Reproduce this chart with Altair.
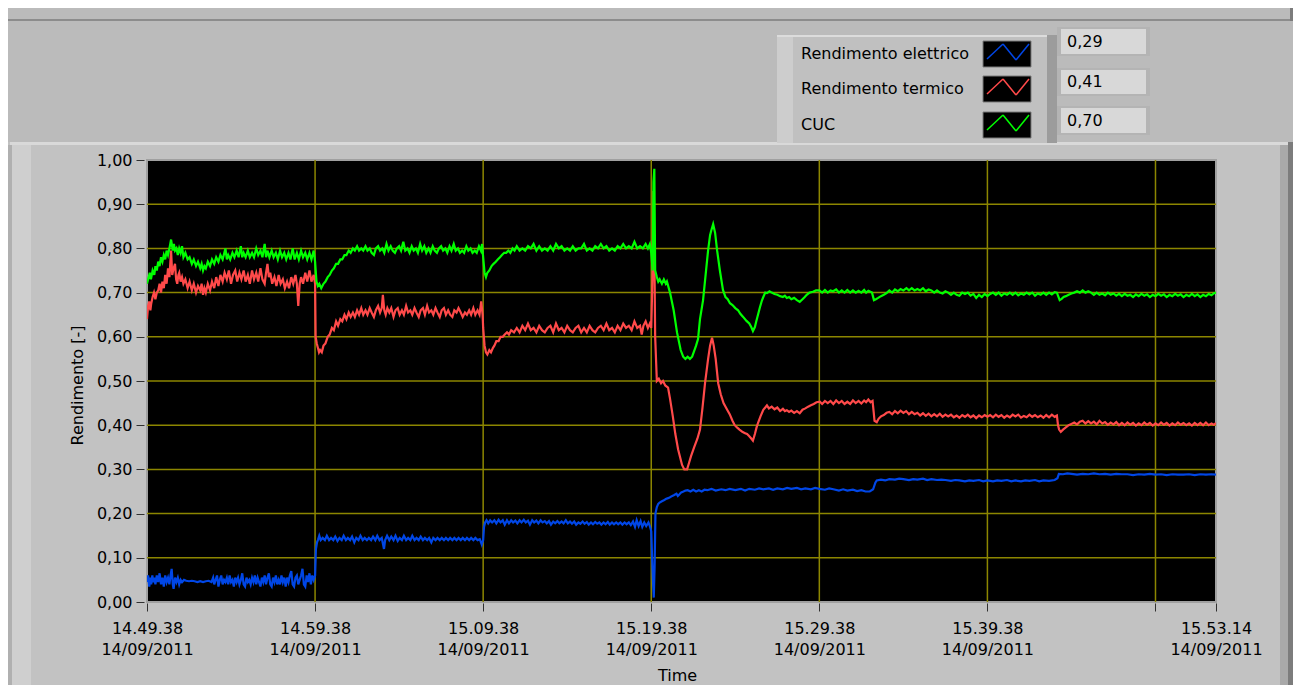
import altair as alt
import pandas as pd

FONT = "DejaVu Sans"
GRID = "#8c8600"
C_EL = "#0046e6"
C_TE = "#ff4a4a"
C_CUC = "#00ff00"

# x axis: seconds from 14.49.38 (14/09/2011)
X_TICKS = [0, 600, 1200, 1800, 2400, 3000, 3600, 3816]
X_TIME_LABELS = ["14.49.38", "14.59.38", "15.09.38", "15.19.38", "15.29.38", "15.39.38", "", "15.53.14"]
X_DATE_LABEL = "14/09/2011"
Y_TICKS = [0.0, 0.1, 0.2, 0.3, 0.4, 0.5, 0.6, 0.7, 0.8, 0.9, 1.0]
GRID_T = [600, 1200, 1800, 2400, 3000, 3600]
GRID_V = [0.1, 0.2, 0.3, 0.4, 0.5, 0.6, 0.7, 0.8, 0.9]

LEGEND_NAMES = ["Rendimento elettrico", "Rendimento termico", "CUC"]
LEGEND_VALUES = ["0,29", "0,41", "0,70"]

# (seconds, value)
CUC = [
    (0, 0.72), (6, 0.735), (10, 0.745), (14, 0.73), (20, 0.75), (26, 0.74), (30, 0.76), (35, 0.75), (40, 0.77),
    (45, 0.76), (50, 0.78), (55, 0.77), (60, 0.785), (65, 0.775), (70, 0.795), (75, 0.785), (80, 0.80),
    (86, 0.82), (92, 0.795), (96, 0.81), (100, 0.795), (105, 0.80), (110, 0.785), (115, 0.80), (120, 0.79),
    (125, 0.805), (130, 0.78), (137, 0.79), (145, 0.775), (152, 0.78), (160, 0.765), (167, 0.775), (175, 0.76),
    (182, 0.77), (190, 0.755), (195, 0.765), (200, 0.75), (205, 0.76), (210, 0.755), (217, 0.77), (225, 0.76),
    (232, 0.775), (240, 0.765), (247, 0.78), (255, 0.77), (262, 0.785), (270, 0.775), (280, 0.80), (285, 0.775),
    (290, 0.785), (297, 0.775), (305, 0.79), (312, 0.78), (320, 0.795), (327, 0.78), (335, 0.805), (340, 0.78),
    (345, 0.79), (352, 0.78), (360, 0.795), (367, 0.78), (375, 0.79), (382, 0.78), (390, 0.80), (397, 0.785),
    (405, 0.795), (412, 0.78), (420, 0.81), (425, 0.78), (430, 0.795), (437, 0.78), (445, 0.795), (452, 0.78),
    (460, 0.79), (467, 0.775), (475, 0.795), (482, 0.78), (490, 0.79), (497, 0.775), (505, 0.79), (512, 0.775),
    (520, 0.80), (527, 0.775), (535, 0.79), (542, 0.775), (550, 0.795), (557, 0.78), (565, 0.79), (572, 0.775),
    (580, 0.79), (587, 0.775), (595, 0.795),
    (600, 0.77), (605, 0.725), (610, 0.715), (615, 0.72), (622, 0.71), (630, 0.72), (637, 0.725), (645, 0.735),
    (652, 0.74), (660, 0.75), (667, 0.755), (675, 0.765), (682, 0.765), (690, 0.775), (697, 0.775), (705, 0.785),
    (712, 0.785), (720, 0.795), (727, 0.79), (735, 0.80), (742, 0.795), (750, 0.805), (757, 0.795), (765, 0.80),
    (772, 0.795), (780, 0.805), (787, 0.795), (795, 0.80), (802, 0.79), (810, 0.785), (817, 0.80), (825, 0.805),
    (832, 0.795), (840, 0.80), (847, 0.79), (855, 0.81), (862, 0.795), (870, 0.805), (877, 0.795), (885, 0.79),
    (892, 0.80), (900, 0.805), (907, 0.795), (915, 0.815), (922, 0.795), (930, 0.80), (937, 0.79), (945, 0.805),
    (952, 0.795), (960, 0.80), (967, 0.79), (975, 0.81), (982, 0.795), (990, 0.805), (997, 0.79), (1005, 0.80),
    (1012, 0.79), (1020, 0.805), (1027, 0.795), (1035, 0.79), (1042, 0.80), (1050, 0.805), (1057, 0.795),
    (1065, 0.80), (1072, 0.79), (1080, 0.805), (1087, 0.795), (1095, 0.81), (1102, 0.795), (1110, 0.80),
    (1117, 0.79), (1125, 0.795), (1132, 0.79), (1140, 0.805), (1147, 0.795), (1155, 0.80), (1162, 0.79),
    (1170, 0.795), (1177, 0.79), (1185, 0.805), (1192, 0.795), (1196, 0.81),
    (1200, 0.78), (1205, 0.745), (1210, 0.735), (1215, 0.745), (1222, 0.75), (1230, 0.76), (1237, 0.765),
    (1245, 0.77), (1252, 0.775), (1260, 0.78), (1267, 0.785), (1275, 0.79), (1282, 0.79), (1290, 0.795),
    (1297, 0.79), (1305, 0.80), (1312, 0.795), (1320, 0.805), (1330, 0.795), (1340, 0.80), (1350, 0.795),
    (1360, 0.805), (1370, 0.80), (1380, 0.81), (1390, 0.795), (1400, 0.805), (1410, 0.795), (1420, 0.80),
    (1430, 0.795), (1440, 0.805), (1450, 0.795), (1460, 0.81), (1470, 0.80), (1480, 0.805), (1490, 0.795),
    (1500, 0.80), (1510, 0.795), (1520, 0.805), (1530, 0.795), (1540, 0.80), (1550, 0.80), (1560, 0.81),
    (1570, 0.795), (1580, 0.80), (1590, 0.795), (1600, 0.805), (1610, 0.80), (1620, 0.81), (1630, 0.80),
    (1640, 0.805), (1650, 0.795), (1660, 0.80), (1670, 0.795), (1680, 0.805), (1690, 0.80), (1700, 0.81),
    (1710, 0.80), (1720, 0.805), (1730, 0.80), (1740, 0.815), (1750, 0.80), (1760, 0.805), (1770, 0.80),
    (1780, 0.81), (1788, 0.80), (1795, 0.81),
    (1800, 0.79), (1805, 0.75), (1808, 0.95), (1811, 0.98), (1814, 0.75), (1820, 0.735), (1825, 0.725),
    (1830, 0.73), (1838, 0.72), (1845, 0.73), (1852, 0.72), (1856, 0.725), (1867, 0.70), (1880, 0.66),
    (1892, 0.61), (1905, 0.57), (1914, 0.555), (1922, 0.55), (1930, 0.555), (1938, 0.55), (1946, 0.555),
    (1960, 0.58), (1967, 0.595), (1974, 0.64), (1985, 0.683), (2003, 0.796), (2010, 0.83), (2014, 0.84),
    (2021, 0.855), (2028, 0.835), (2035, 0.796), (2045, 0.75), (2056, 0.706), (2065, 0.69), (2073, 0.685),
    (2081, 0.676), (2090, 0.672), (2100, 0.665), (2110, 0.66), (2118, 0.652), (2128, 0.645), (2140, 0.636),
    (2150, 0.63), (2157, 0.622), (2163, 0.613), (2170, 0.622), (2175, 0.635), (2182, 0.652), (2188, 0.667),
    (2195, 0.682), (2200, 0.69), (2207, 0.70), (2213, 0.699), (2222, 0.703), (2230, 0.70), (2240, 0.697),
    (2250, 0.695), (2260, 0.692), (2270, 0.69), (2277, 0.693), (2284, 0.688), (2292, 0.69), (2300, 0.685),
    (2310, 0.688), (2320, 0.683), (2330, 0.679), (2340, 0.685), (2348, 0.69), (2355, 0.695), (2365, 0.70),
    (2377, 0.702), (2388, 0.705), (2400, 0.705), (2410, 0.70), (2420, 0.706), (2430, 0.70), (2440, 0.705),
    (2449, 0.703), (2460, 0.707), (2470, 0.70), (2480, 0.705), (2490, 0.70), (2500, 0.706), (2510, 0.70),
    (2520, 0.705), (2530, 0.70), (2540, 0.704), (2550, 0.70), (2560, 0.706), (2567, 0.70), (2575, 0.704),
    (2588, 0.70), (2595, 0.683), (2602, 0.685), (2610, 0.688), (2620, 0.692), (2630, 0.695), (2640, 0.699),
    (2650, 0.705), (2660, 0.70), (2670, 0.707), (2680, 0.703), (2690, 0.708), (2700, 0.705), (2711, 0.71),
    (2720, 0.705), (2730, 0.71), (2740, 0.705), (2750, 0.708), (2760, 0.705), (2770, 0.71), (2780, 0.703),
    (2790, 0.707), (2800, 0.705), (2810, 0.70), (2820, 0.705), (2830, 0.70), (2840, 0.698), (2850, 0.703),
    (2860, 0.70), (2870, 0.695), (2880, 0.70), (2890, 0.695), (2900, 0.693), (2910, 0.70), (2920, 0.697),
    (2930, 0.70), (2940, 0.693), (2950, 0.697), (2960, 0.688), (2970, 0.695), (2980, 0.69), (2990, 0.697),
    (3000, 0.692), (3010, 0.697), (3020, 0.70), (3030, 0.695), (3040, 0.70), (3050, 0.693), (3060, 0.698),
    (3070, 0.695), (3080, 0.70), (3090, 0.695), (3100, 0.70), (3110, 0.694), (3120, 0.698), (3130, 0.695),
    (3140, 0.70), (3150, 0.696), (3160, 0.70), (3170, 0.693), (3180, 0.698), (3190, 0.695), (3200, 0.70),
    (3210, 0.695), (3220, 0.70), (3230, 0.696), (3240, 0.701), (3248, 0.70), (3254, 0.69), (3258, 0.683),
    (3265, 0.686), (3272, 0.69), (3280, 0.692), (3290, 0.695), (3300, 0.698), (3310, 0.70), (3320, 0.703),
    (3330, 0.70), (3340, 0.705), (3350, 0.70), (3360, 0.703), (3370, 0.70), (3380, 0.695), (3390, 0.70),
    (3400, 0.695), (3410, 0.698), (3420, 0.694), (3430, 0.70), (3440, 0.695), (3450, 0.698), (3460, 0.693),
    (3470, 0.697), (3480, 0.692), (3490, 0.697), (3500, 0.693), (3510, 0.695), (3520, 0.69), (3530, 0.696),
    (3540, 0.692), (3550, 0.697), (3560, 0.693), (3570, 0.696), (3580, 0.69), (3590, 0.695), (3600, 0.692),
    (3610, 0.697), (3620, 0.693), (3630, 0.696), (3640, 0.69), (3650, 0.695), (3660, 0.692), (3670, 0.697),
    (3680, 0.693), (3690, 0.696), (3700, 0.69), (3710, 0.695), (3720, 0.692), (3730, 0.697), (3740, 0.692),
    (3750, 0.696), (3760, 0.69), (3770, 0.695), (3780, 0.692), (3790, 0.697), (3800, 0.694), (3808, 0.698),
    (3816, 0.70),
]

TERMICO = [
    (0, 0.64), (4, 0.67), (8, 0.68), (12, 0.66), (15, 0.675), (20, 0.69), (25, 0.70), (30, 0.685), (35, 0.70),
    (40, 0.705), (45, 0.72), (50, 0.70), (55, 0.725), (60, 0.71), (65, 0.74), (70, 0.72), (75, 0.755),
    (80, 0.735), (86, 0.795), (90, 0.74), (95, 0.755), (100, 0.765), (104, 0.73), (108, 0.72), (112, 0.74),
    (115, 0.745), (120, 0.725), (125, 0.735), (130, 0.72), (137, 0.73), (145, 0.71), (152, 0.725), (160, 0.705),
    (167, 0.72), (175, 0.70), (182, 0.715), (190, 0.705), (195, 0.72), (200, 0.695), (205, 0.71), (210, 0.70),
    (217, 0.72), (225, 0.705), (232, 0.725), (240, 0.71), (247, 0.735), (255, 0.715), (262, 0.74), (270, 0.725),
    (277, 0.745), (285, 0.73), (292, 0.75), (300, 0.72), (307, 0.74), (315, 0.75), (322, 0.725), (330, 0.745),
    (337, 0.73), (345, 0.75), (352, 0.725), (360, 0.74), (367, 0.72), (375, 0.75), (382, 0.73), (390, 0.745),
    (397, 0.725), (405, 0.755), (412, 0.73), (420, 0.72), (425, 0.745), (430, 0.765), (435, 0.735),
    (440, 0.745), (447, 0.72), (455, 0.735), (462, 0.715), (470, 0.74), (477, 0.72), (485, 0.73), (492, 0.71),
    (500, 0.725), (507, 0.71), (515, 0.735), (522, 0.72), (530, 0.74), (535, 0.72), (540, 0.67), (545, 0.72),
    (550, 0.735), (557, 0.72), (565, 0.745), (572, 0.725), (580, 0.75), (587, 0.725), (595, 0.74),
    (600, 0.72), (602, 0.60), (606, 0.585), (610, 0.575), (614, 0.565), (618, 0.57), (624, 0.565), (630, 0.58),
    (637, 0.585), (645, 0.60), (652, 0.605), (660, 0.62), (667, 0.615), (675, 0.635), (682, 0.625), (690, 0.64),
    (697, 0.635), (705, 0.65), (712, 0.64), (720, 0.655), (727, 0.645), (735, 0.655), (742, 0.645), (750, 0.66),
    (757, 0.65), (765, 0.665), (772, 0.65), (780, 0.66), (787, 0.65), (795, 0.665), (802, 0.655), (810, 0.645),
    (817, 0.66), (825, 0.67), (832, 0.655), (838, 0.665), (842, 0.695), (847, 0.66), (852, 0.65), (858, 0.665),
    (865, 0.655), (872, 0.665), (880, 0.645), (887, 0.66), (895, 0.665), (902, 0.65), (910, 0.66), (917, 0.65),
    (925, 0.67), (932, 0.655), (940, 0.66), (947, 0.65), (955, 0.665), (962, 0.655), (970, 0.645),
    (977, 0.66), (985, 0.665), (992, 0.65), (1000, 0.67), (1007, 0.655), (1015, 0.66), (1022, 0.65),
    (1030, 0.665), (1037, 0.655), (1045, 0.645), (1052, 0.66), (1060, 0.665), (1067, 0.65), (1075, 0.66),
    (1082, 0.65), (1090, 0.645), (1097, 0.66), (1105, 0.655), (1112, 0.665), (1120, 0.655), (1127, 0.645),
    (1135, 0.655), (1142, 0.65), (1150, 0.66), (1157, 0.65), (1165, 0.665), (1172, 0.65), (1180, 0.66),
    (1187, 0.65), (1193, 0.68), (1198, 0.65),
    (1200, 0.62), (1205, 0.58), (1210, 0.565), (1215, 0.56), (1222, 0.57), (1228, 0.565), (1235, 0.575),
    (1240, 0.58), (1247, 0.59), (1255, 0.59), (1262, 0.60), (1270, 0.60), (1277, 0.605), (1285, 0.61),
    (1292, 0.605), (1300, 0.615), (1310, 0.61), (1320, 0.62), (1330, 0.61), (1340, 0.625), (1350, 0.615),
    (1360, 0.63), (1370, 0.615), (1380, 0.62), (1390, 0.61), (1400, 0.625), (1410, 0.615), (1420, 0.61),
    (1430, 0.62), (1440, 0.625), (1450, 0.61), (1460, 0.63), (1470, 0.615), (1480, 0.62), (1490, 0.61),
    (1500, 0.625), (1510, 0.615), (1520, 0.61), (1530, 0.62), (1540, 0.625), (1550, 0.61), (1560, 0.62),
    (1570, 0.61), (1580, 0.625), (1590, 0.615), (1600, 0.61), (1610, 0.62), (1620, 0.625), (1630, 0.615),
    (1640, 0.63), (1650, 0.615), (1660, 0.62), (1670, 0.61), (1680, 0.625), (1690, 0.615), (1700, 0.63),
    (1710, 0.62), (1720, 0.625), (1730, 0.615), (1740, 0.635), (1750, 0.62), (1760, 0.625), (1766, 0.605),
    (1772, 0.625), (1780, 0.635), (1788, 0.62), (1795, 0.63),
    (1800, 0.62), (1805, 0.75), (1808, 0.93), (1811, 0.80), (1814, 0.60), (1820, 0.50), (1827, 0.505),
    (1835, 0.495), (1842, 0.50), (1850, 0.49), (1860, 0.485), (1867, 0.46), (1877, 0.42), (1886, 0.38),
    (1896, 0.345), (1910, 0.31), (1918, 0.30), (1928, 0.30), (1935, 0.315), (1942, 0.33), (1953, 0.35),
    (1965, 0.37), (1974, 0.39), (1983, 0.44), (1992, 0.495), (2003, 0.55), (2010, 0.58), (2017, 0.598),
    (2023, 0.58), (2030, 0.55), (2039, 0.495), (2048, 0.47), (2058, 0.45), (2071, 0.435), (2080, 0.425),
    (2090, 0.41), (2098, 0.40), (2106, 0.395), (2115, 0.39), (2125, 0.385), (2135, 0.382), (2142, 0.38),
    (2150, 0.375), (2157, 0.37), (2163, 0.365), (2170, 0.38), (2176, 0.395), (2181, 0.405), (2190, 0.42),
    (2200, 0.435), (2207, 0.44), (2213, 0.445), (2220, 0.438), (2230, 0.442), (2240, 0.436), (2250, 0.44),
    (2260, 0.432), (2270, 0.437), (2277, 0.432), (2284, 0.434), (2292, 0.43), (2300, 0.433), (2310, 0.428),
    (2320, 0.432), (2330, 0.427), (2340, 0.435), (2350, 0.438), (2360, 0.442), (2370, 0.445), (2380, 0.448),
    (2390, 0.452), (2402, 0.453), (2410, 0.448), (2420, 0.455), (2430, 0.45), (2440, 0.455), (2450, 0.448),
    (2460, 0.456), (2470, 0.45), (2480, 0.455), (2490, 0.448), (2500, 0.453), (2510, 0.448), (2520, 0.456),
    (2530, 0.45), (2540, 0.455), (2550, 0.449), (2560, 0.456), (2567, 0.452), (2575, 0.458), (2583, 0.452),
    (2590, 0.455), (2594, 0.43), (2597, 0.41), (2605, 0.407), (2612, 0.415), (2620, 0.42), (2630, 0.423),
    (2640, 0.428), (2650, 0.43), (2660, 0.425), (2670, 0.432), (2680, 0.427), (2690, 0.433), (2700, 0.428),
    (2710, 0.432), (2720, 0.425), (2730, 0.43), (2740, 0.425), (2750, 0.428), (2760, 0.422), (2770, 0.427),
    (2780, 0.421), (2790, 0.426), (2800, 0.42), (2810, 0.425), (2820, 0.42), (2830, 0.426), (2840, 0.419),
    (2850, 0.424), (2860, 0.42), (2870, 0.424), (2880, 0.418), (2890, 0.422), (2900, 0.417), (2910, 0.423),
    (2920, 0.419), (2930, 0.424), (2940, 0.418), (2950, 0.422), (2960, 0.416), (2970, 0.422), (2980, 0.418),
    (2990, 0.423), (3000, 0.419), (3010, 0.423), (3020, 0.418), (3030, 0.424), (3040, 0.419), (3050, 0.423),
    (3060, 0.417), (3070, 0.422), (3080, 0.418), (3090, 0.424), (3100, 0.42), (3110, 0.424), (3120, 0.417),
    (3130, 0.421), (3140, 0.418), (3150, 0.424), (3160, 0.419), (3170, 0.423), (3180, 0.418), (3190, 0.422),
    (3200, 0.417), (3210, 0.423), (3220, 0.418), (3230, 0.424), (3240, 0.419), (3248, 0.422), (3252, 0.40),
    (3256, 0.39), (3262, 0.385), (3270, 0.39), (3280, 0.395), (3290, 0.40), (3300, 0.403), (3310, 0.406),
    (3320, 0.402), (3330, 0.408), (3340, 0.41), (3350, 0.404), (3360, 0.409), (3370, 0.404), (3380, 0.408),
    (3390, 0.402), (3400, 0.41), (3410, 0.404), (3420, 0.407), (3430, 0.401), (3440, 0.406), (3450, 0.402),
    (3460, 0.407), (3470, 0.40), (3480, 0.405), (3490, 0.40), (3500, 0.406), (3510, 0.401), (3520, 0.405),
    (3530, 0.399), (3540, 0.404), (3550, 0.40), (3560, 0.406), (3570, 0.401), (3580, 0.405), (3590, 0.399),
    (3600, 0.404), (3610, 0.40), (3620, 0.406), (3630, 0.401), (3640, 0.405), (3650, 0.399), (3660, 0.404),
    (3670, 0.40), (3680, 0.406), (3690, 0.401), (3700, 0.405), (3710, 0.40), (3720, 0.404), (3730, 0.399),
    (3740, 0.405), (3750, 0.40), (3760, 0.405), (3770, 0.40), (3780, 0.406), (3790, 0.40), (3800, 0.404),
    (3808, 0.401), (3816, 0.405),
]

ELETTRICO = [
    (0, 0.045), (4, 0.06), (8, 0.035), (12, 0.055), (15, 0.04), (19, 0.06), (22, 0.045), (26, 0.055),
    (30, 0.04), (35, 0.06), (40, 0.045), (45, 0.065), (50, 0.04), (55, 0.055), (60, 0.035), (65, 0.06),
    (70, 0.045), (75, 0.055), (80, 0.04), (84, 0.06), (88, 0.075), (92, 0.04), (95, 0.03), (100, 0.055),
    (105, 0.045), (110, 0.055), (115, 0.04), (120, 0.05), (125, 0.045), (132, 0.05), (140, 0.048),
    (150, 0.047), (160, 0.048), (170, 0.047), (180, 0.045), (190, 0.047), (200, 0.045), (210, 0.047),
    (220, 0.048), (230, 0.045), (236, 0.055), (240, 0.04), (245, 0.05), (250, 0.06), (255, 0.035),
    (260, 0.05), (265, 0.06), (270, 0.04), (275, 0.05), (280, 0.045), (285, 0.055), (290, 0.04), (295, 0.06),
    (300, 0.045), (305, 0.05), (310, 0.035), (315, 0.055), (320, 0.045), (325, 0.055), (330, 0.04),
    (335, 0.05), (340, 0.065), (345, 0.04), (350, 0.035), (355, 0.055), (360, 0.045), (365, 0.05),
    (370, 0.04), (375, 0.055), (380, 0.045), (385, 0.06), (390, 0.04), (395, 0.055), (400, 0.045),
    (405, 0.035), (410, 0.055), (415, 0.045), (420, 0.06), (425, 0.04), (430, 0.055), (435, 0.065),
    (440, 0.04), (445, 0.035), (450, 0.055), (455, 0.045), (460, 0.06), (465, 0.04), (470, 0.05),
    (475, 0.04), (480, 0.06), (485, 0.045), (490, 0.055), (495, 0.035), (500, 0.055), (505, 0.045),
    (510, 0.06), (515, 0.07), (520, 0.04), (525, 0.035), (530, 0.055), (535, 0.06), (540, 0.04),
    (545, 0.05), (550, 0.06), (555, 0.075), (560, 0.04), (565, 0.035), (570, 0.06), (575, 0.045),
    (580, 0.065), (585, 0.04), (590, 0.06), (595, 0.05),
    (600, 0.06), (603, 0.12), (607, 0.135), (610, 0.14), (615, 0.15), (620, 0.14), (627, 0.145), (635, 0.14),
    (642, 0.15), (650, 0.14), (657, 0.145), (665, 0.14), (672, 0.148), (680, 0.138), (687, 0.145),
    (695, 0.14), (702, 0.15), (710, 0.14), (717, 0.145), (725, 0.14), (732, 0.148), (740, 0.135),
    (747, 0.145), (755, 0.14), (762, 0.15), (770, 0.14), (777, 0.145), (785, 0.14), (792, 0.145),
    (800, 0.14), (807, 0.148), (815, 0.14), (822, 0.15), (830, 0.14), (838, 0.145), (846, 0.12),
    (850, 0.14), (857, 0.15), (865, 0.14), (872, 0.148), (880, 0.14), (887, 0.15), (895, 0.138),
    (902, 0.145), (910, 0.14), (917, 0.15), (925, 0.14), (932, 0.145), (940, 0.14), (947, 0.15),
    (955, 0.14), (962, 0.145), (970, 0.14), (977, 0.148), (985, 0.14), (992, 0.145), (1000, 0.14),
    (1007, 0.145), (1015, 0.135), (1022, 0.145), (1030, 0.14), (1037, 0.145), (1045, 0.14), (1052, 0.145),
    (1060, 0.14), (1067, 0.145), (1075, 0.14), (1082, 0.145), (1090, 0.14), (1097, 0.145), (1105, 0.14),
    (1112, 0.145), (1120, 0.14), (1127, 0.145), (1135, 0.14), (1142, 0.145), (1150, 0.14), (1157, 0.145),
    (1165, 0.14), (1172, 0.145), (1180, 0.14), (1188, 0.142), (1195, 0.13),
    (1200, 0.14), (1203, 0.17), (1207, 0.18), (1212, 0.185), (1218, 0.178), (1225, 0.185), (1232, 0.18),
    (1240, 0.185), (1247, 0.178), (1255, 0.186), (1262, 0.18), (1270, 0.185), (1277, 0.175), (1285, 0.185),
    (1292, 0.178), (1300, 0.185), (1307, 0.18), (1315, 0.184), (1322, 0.178), (1330, 0.185), (1337, 0.18),
    (1345, 0.186), (1352, 0.18), (1360, 0.184), (1367, 0.175), (1375, 0.185), (1382, 0.18), (1390, 0.184),
    (1397, 0.178), (1405, 0.185), (1412, 0.18), (1420, 0.183), (1427, 0.178), (1435, 0.183), (1442, 0.175),
    (1450, 0.182), (1457, 0.178), (1465, 0.183), (1472, 0.178), (1480, 0.182), (1487, 0.178), (1495, 0.185),
    (1502, 0.178), (1510, 0.182), (1517, 0.177), (1525, 0.182), (1532, 0.175), (1540, 0.18), (1547, 0.177),
    (1555, 0.182), (1562, 0.177), (1570, 0.181), (1577, 0.175), (1585, 0.18), (1592, 0.176), (1600, 0.181),
    (1607, 0.177), (1615, 0.18), (1622, 0.175), (1630, 0.18), (1637, 0.176), (1645, 0.181), (1652, 0.175),
    (1660, 0.18), (1667, 0.176), (1675, 0.18), (1682, 0.176), (1690, 0.18), (1697, 0.175), (1705, 0.18),
    (1712, 0.176), (1720, 0.18), (1727, 0.174), (1735, 0.182), (1742, 0.17), (1748, 0.185), (1755, 0.172),
    (1762, 0.183), (1768, 0.17), (1775, 0.18), (1782, 0.172), (1790, 0.18), (1796, 0.17),
    (1800, 0.16), (1803, 0.10), (1806, 0.05), (1809, 0.01), (1812, 0.08), (1815, 0.20), (1820, 0.215),
    (1825, 0.222), (1830, 0.225), (1838, 0.228), (1845, 0.23), (1852, 0.233), (1860, 0.235), (1867, 0.237),
    (1875, 0.24), (1882, 0.242), (1890, 0.245), (1895, 0.24), (1900, 0.243), (1907, 0.248), (1915, 0.25),
    (1922, 0.252), (1930, 0.253), (1940, 0.25), (1950, 0.254), (1960, 0.25), (1970, 0.253), (1980, 0.25),
    (1990, 0.254), (2000, 0.253), (2015, 0.256), (2030, 0.252), (2050, 0.255), (2065, 0.253), (2080, 0.256),
    (2100, 0.253), (2120, 0.256), (2135, 0.252), (2150, 0.256), (2170, 0.254), (2185, 0.257), (2200, 0.255),
    (2220, 0.257), (2235, 0.254), (2250, 0.257), (2270, 0.255), (2285, 0.258), (2300, 0.256), (2320, 0.258),
    (2335, 0.255), (2350, 0.257), (2370, 0.255), (2385, 0.258), (2400, 0.256), (2420, 0.254), (2435, 0.257),
    (2450, 0.255), (2470, 0.252), (2485, 0.255), (2500, 0.252), (2520, 0.254), (2535, 0.251), (2550, 0.253),
    (2565, 0.25), (2580, 0.25), (2592, 0.255), (2600, 0.27), (2605, 0.275), (2620, 0.277), (2635, 0.275),
    (2650, 0.278), (2670, 0.277), (2685, 0.279), (2700, 0.278), (2720, 0.276), (2735, 0.278), (2750, 0.277),
    (2770, 0.279), (2785, 0.276), (2800, 0.278), (2820, 0.276), (2835, 0.277), (2850, 0.276), (2870, 0.274),
    (2885, 0.276), (2900, 0.275), (2920, 0.273), (2935, 0.275), (2950, 0.274), (2970, 0.276), (2985, 0.273),
    (3000, 0.275), (3020, 0.273), (3035, 0.275), (3050, 0.274), (3070, 0.276), (3085, 0.273), (3100, 0.275),
    (3120, 0.273), (3135, 0.275), (3150, 0.274), (3170, 0.276), (3185, 0.273), (3200, 0.275), (3220, 0.274),
    (3240, 0.276), (3250, 0.28), (3255, 0.29), (3270, 0.289), (3285, 0.291), (3300, 0.29), (3320, 0.288),
    (3340, 0.29), (3360, 0.289), (3380, 0.291), (3400, 0.289), (3420, 0.29), (3440, 0.288), (3460, 0.29),
    (3480, 0.289), (3500, 0.289), (3520, 0.287), (3540, 0.289), (3560, 0.288), (3580, 0.29), (3600, 0.288),
    (3620, 0.289), (3640, 0.287), (3660, 0.289), (3680, 0.288), (3700, 0.288), (3720, 0.289), (3740, 0.287),
    (3760, 0.289), (3780, 0.288), (3800, 0.289), (3816, 0.288),
]

# ---------------------------------------------------------------- layout helpers
PX0, PY0 = 147, 160  # page position of plot origin
one = pd.DataFrame({"k": [0]})


def px(x):
    return x - PX0


def py(y):
    return y - PY0


def box(x1, y1, x2, y2, fill, stroke=None, sw=1):
    kw = dict(fill=fill, strokeWidth=0)
    if stroke:
        kw.update(stroke=stroke, strokeWidth=sw)
    return alt.Chart(one).mark_rect(**kw).encode(
        x=alt.value(px(x1)), x2=alt.value(px(x2)), y=alt.value(py(y1)), y2=alt.value(py(y2))
    )


def seg(x1, y1, x2, y2, color, w=1.5):
    return alt.Chart(one).mark_rule(color=color, strokeWidth=w).encode(
        x=alt.value(px(x1)), x2=alt.value(px(x2)), y=alt.value(py(y1)), y2=alt.value(py(y2))
    )


def label(x, y, s, size=16):
    return alt.Chart(one).mark_text(
        text=s, align="left", baseline="middle", font=FONT, fontSize=size, color="black"
    ).encode(x=alt.value(px(x)), y=alt.value(py(y)))


decor = [
    # upper panel area (chart background is the lower frame colour)
    box(8, 8, 1293, 142, "#bbbbbb"),
    box(8, 19, 1293, 21, "#8c8c8c"),
    box(1290, 8, 1293, 21, "#7c7c7c"),
    # lower frame bevels (kept clear of the axis texts)
    box(10, 142, 1296, 145, "#d9d9d9"),
    box(8, 145, 12, 685, "#b0b0b0"),
    box(12, 145, 31, 685, "#cfcfcf"),
    box(1280, 145, 1288, 685, "#a9a9a9"),
    box(1288, 142, 1293, 685, "#7c7c7c"),
    # legend panel
    box(777, 35, 1057, 143, "#c0c0c0"),
    box(777, 35, 1057, 37, "#dcdcdc"),
    box(777, 37, 793, 143, "#cdcdcd"),
    box(1047, 35, 1057, 143, "#9c9c9c"),
]

legend_tops = [41, 76, 112]
legend_cols = [C_EL, C_TE, C_CUC]
zig = [(4, 18), (20, 3), (33, 19), (46, 3)]
for i, top in enumerate(legend_tops):
    decor.append(box(983, top, 1031, top + 26, "black", stroke="#7a7a7a"))
    for (ax, ay), (bx, by) in zip(zig[:-1], zig[1:]):
        decor.append(seg(983 + ax, top + ay, 983 + bx, top + by, legend_cols[i]))
    decor.append(label(801, top + 13, LEGEND_NAMES[i]))

value_boxes = [(27, 56), (68, 96), (106, 135)]
for i, (y1, y2) in enumerate(value_boxes):
    decor.append(box(1057, y1, 1150, y2, "#b4b4b4"))
    decor.append(box(1061, y1 + 2, 1146, y2 - 2, "#d8d8d8"))
    decor.append(label(1067, (y1 + y2) / 2, LEGEND_VALUES[i]))

# ---------------------------------------------------------------- axes
x_expr = ""
for v, s in zip(X_TICKS, X_TIME_LABELS):
    lab = f"['{s}','{X_DATE_LABEL}']" if s else "''"
    x_expr += f"datum.value == {v} ? {lab} : "
x_expr += "''"

xscale = alt.Scale(domain=[0, 3816], nice=False, zero=False)
yscale = alt.Scale(domain=[0, 1], nice=False)

xaxis = alt.Axis(
    values=X_TICKS, labelExpr=x_expr, grid=False,
    domain=False, tickColor="#303030", tickSize=8, offset=1, labelPadding=9, labelBaseline="top",
    labelLineHeight=21, labelFontSize=16, labelFont=FONT, labelColor="black", labelOverlap=False,
    labelFlush=False, labelBound=False, title="Time", titleFont=FONT, titleFontSize=16,
    titleFontWeight="normal", titleColor="black", titleX=530, titleY=72, titleBaseline="middle",
    titleAlign="center",
)
yaxis = alt.Axis(
    values=Y_TICKS, labelExpr="replace(format(datum.value, '.2f'), '.', ',')", grid=False,
    domain=False, tickColor="#303030", tickSize=8,
    offset=3, labelPadding=4, labelFontSize=16, labelFont=FONT, labelColor="black",
    title="Rendimento [-]", titleFont=FONT, titleFontSize=16, titleFontWeight="normal",
    titleColor="black", titleAngle=270, titleX=-67, titleY=225, titleBaseline="middle",
    titleAlign="center",
)

vgrid = alt.Chart(pd.DataFrame({"t": GRID_T})).mark_rule(color=GRID, strokeWidth=1.5).encode(
    x=alt.X("t:Q", scale=xscale, axis=xaxis)
)
hgrid = alt.Chart(pd.DataFrame({"v": GRID_V})).mark_rule(color=GRID, strokeWidth=1.5).encode(
    y=alt.Y("v:Q", scale=yscale, axis=yaxis)
)


def series(pairs, color):
    df = pd.DataFrame(pairs, columns=["t", "v"])
    return alt.Chart(df).mark_line(color=color, strokeWidth=2.2, clip=True).encode(
        x=alt.X("t:Q", scale=xscale, axis=xaxis),
        y=alt.Y("v:Q", scale=yscale, axis=yaxis),
    )


chart = alt.layer(
    *decor,
    vgrid,
    hgrid,
    series(ELETTRICO, C_EL),
    series(TERMICO, C_TE),
    series(CUC, C_CUC),
).properties(
    width=1069,
    height=442,
    padding={"left": 139, "top": 152, "right": 77, "bottom": 83},
    autosize=alt.AutoSizeParams(type="none"),
    background="#c2c2c2",
).configure_view(fill="black", stroke="#a0a0a0", strokeWidth=2)

chart.save("out.html", embed_options={"renderer": "svg", "actions": False})
